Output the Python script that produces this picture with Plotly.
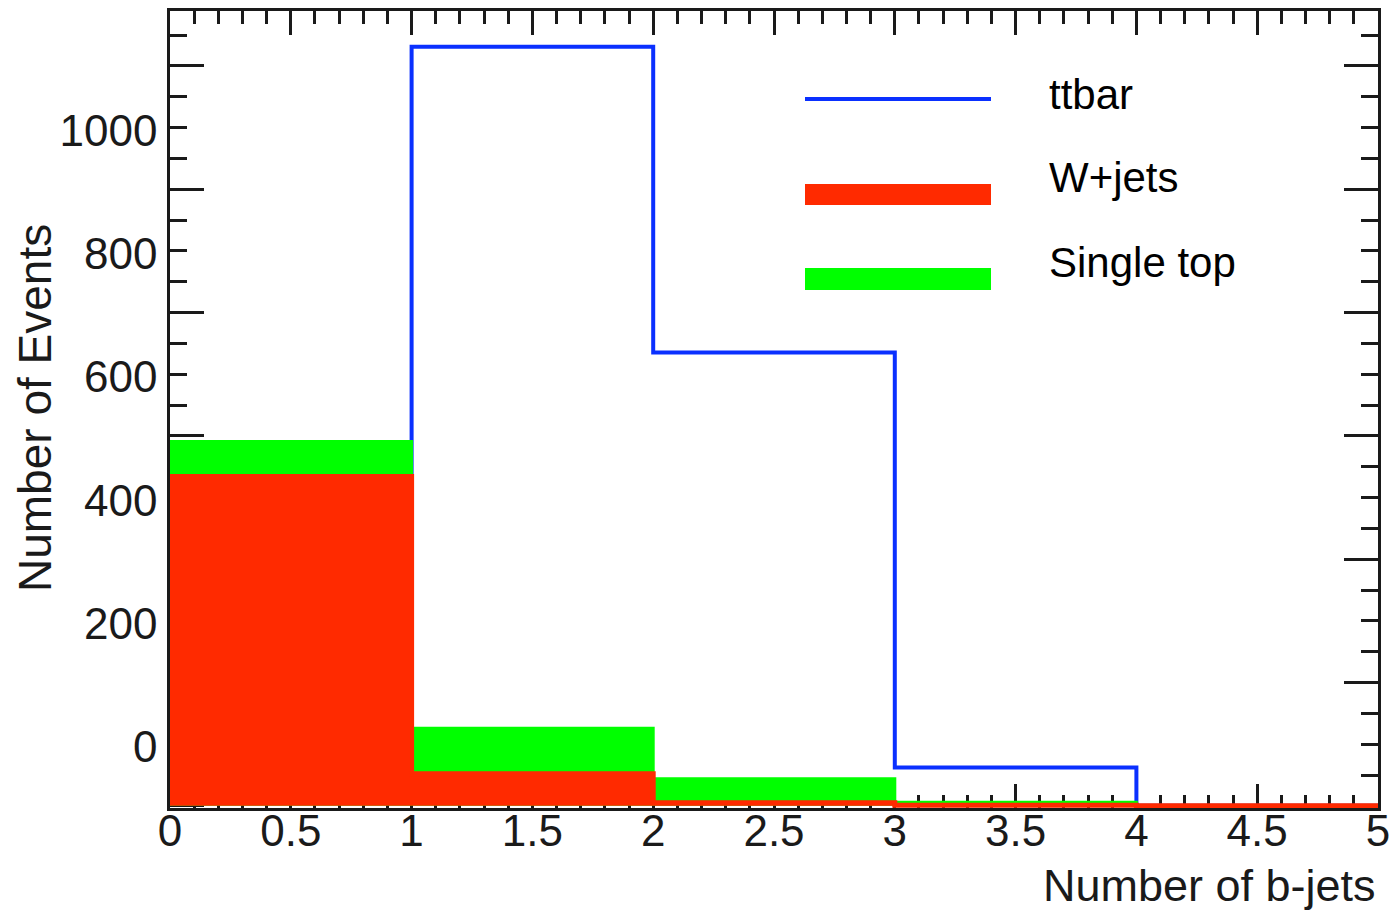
import plotly.graph_objects as go

# ---- data ----
bin_edges = [0, 1, 2, 3, 4, 5]
ttbar = [180, 1231, 735, 62, 0]
wjets = [534, 52, 5, 1, 0]
single_top = [57, 74, 39, 5, 0]

x_tickvals = [0, 0.5, 1, 1.5, 2, 2.5, 3, 3.5, 4, 4.5, 5]
x_ticktext = ["0", "0.5", "1", "1.5", "2", "2.5", "3", "3.5", "4", "4.5", "5"]
y_tickvals = [0, 200, 400, 600, 800, 1000, 1200]
y_ticktext = ["0", "200", "400", "600", "800", "1000", ""]

legend_names = ["ttbar", "W+jets", "Single top"]

# ---- styles ----
BLUE = "#0a30ff"
RED = "#ff2a00"
GREEN = "#00ff00"
INK = "#1a1a1a"
FONT = "Liberation Sans, Arial, sans-serif"

W, H = 1393, 912
L, R, T, B = 170, 15, 11, 104
PW, PH = W - L - R, H - T - B


def step(vals):
    return list(bin_edges), list(vals) + [vals[-1]]


total = [w + s for w, s in zip(wjets, single_top)]

fig = go.Figure()

xs, ys = step(ttbar)
fig.add_trace(go.Scatter(x=xs, y=ys, mode="lines", line=dict(color=BLUE, width=4, shape="hv"),
                         name=legend_names[0], showlegend=False, hoverinfo="skip"))
xs, ys = step(total)
fig.add_trace(go.Scatter(x=xs, y=ys, mode="lines", fill="tozeroy", fillcolor=GREEN,
                         line=dict(color=GREEN, width=3, shape="hv"),
                         name=legend_names[2], showlegend=False, hoverinfo="skip"))
xs, ys = step(wjets)
fig.add_trace(go.Scatter(x=xs, y=ys, mode="lines", fill="tozeroy", fillcolor=RED,
                         line=dict(color=RED, width=5, shape="hv"),
                         name=legend_names[1], showlegend=False, hoverinfo="skip"))


def px_x(p):
    return (p - L) / PW


def px_y(p):
    return (H - B - p) / PH


# manual legend
shapes = [
    dict(type="line", xref="paper", yref="paper", x0=px_x(805), x1=px_x(991), y0=px_y(99), y1=px_y(99),
         line=dict(color=BLUE, width=4)),
    dict(type="rect", xref="paper", yref="paper", x0=px_x(805), x1=px_x(991), y0=px_y(205), y1=px_y(184),
         fillcolor=RED, line=dict(width=0)),
    dict(type="rect", xref="paper", yref="paper", x0=px_x(805), x1=px_x(991), y0=px_y(290), y1=px_y(268),
         fillcolor=GREEN, line=dict(width=0)),
]
annotations = []
for name, yc in zip(legend_names, [94, 178, 262]):
    annotations.append(dict(text=name, xref="paper", yref="paper", x=px_x(1047), y=px_y(yc),
                            xanchor="left", yanchor="middle", showarrow=False,
                            font=dict(family=FONT, size=42, color="black")))

annotations.append(dict(text="Number of b-jets", xref="paper", yref="paper", x=1.0, y=px_y(885),
                        xanchor="right", yanchor="middle", showarrow=False,
                        font=dict(family=FONT, size=45, color=INK)))
annotations.append(dict(text="Number of Events", xref="paper", yref="paper", x=px_x(35), y=px_y(408),
                        xanchor="center", yanchor="middle", showarrow=False, textangle=-90,
                        font=dict(family=FONT, size=46, color=INK)))

axis_common = dict(showline=True, linecolor=INK, linewidth=2.5, mirror="allticks", ticks="inside",
                   tickcolor=INK, tickwidth=2.5, showgrid=False, zeroline=False, layer="below traces",
                   tickfont=dict(family=FONT, size=44, color=INK), fixedrange=True)

fig.update_layout(
    width=W, height=H,
    margin=dict(l=L, r=R, t=T, b=B, autoexpand=False),
    paper_bgcolor="white", plot_bgcolor="white",
    showlegend=False,
    shapes=shapes, annotations=annotations,
    xaxis=dict(range=[0, 5], tickmode="array", tickvals=x_tickvals, ticktext=x_ticktext, ticklen=24,
               minor=dict(dtick=0.1, tick0=0, ticklen=13, ticks="inside", tickcolor=INK, tickwidth=2.5),
               ticklabelstandoff=-18, **axis_common),
    yaxis=dict(range=[-3.5, 1289], tickmode="array", tickvals=y_tickvals, ticktext=y_ticktext, ticklen=34,
               minor=dict(dtick=50, tick0=0, ticklen=17, ticks="inside", tickcolor=INK, tickwidth=2.5),
               ticklabelshift=-59, ticklabelstandoff=1, **axis_common),
)

fig.write_html("out.html")
